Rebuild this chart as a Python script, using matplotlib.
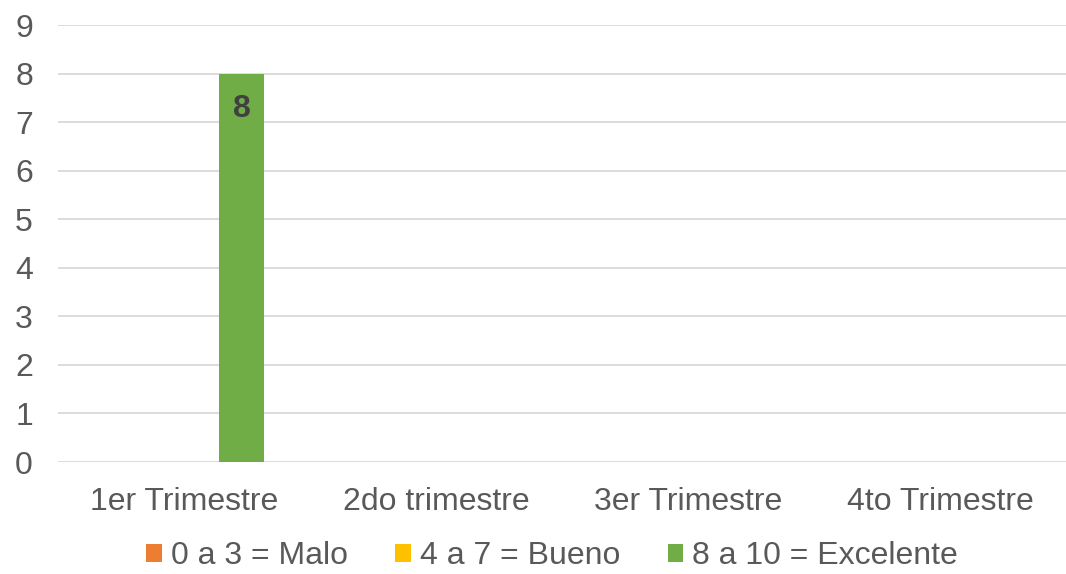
import numpy as np
import matplotlib.pyplot as plt

categorias = ['1er Trimestre', '2do trimestre', '3er Trimestre', '4to Trimestre']
series = ['0 a 3 = Malo', '4 a 7 = Bueno', '8 a 10 = Excelente']
malo = [0, 0, 0, 0]
bueno = [0, 0, 0, 0]
excelente = [8, 0, 0, 0]
colores = ['#ED7D31', '#FFC000', '#70AD47']


def main():
    plt.rcParams['font.family'] = ['Liberation Sans', 'DejaVu Sans']
    gris = '#595959'

    fig = plt.figure(figsize=(10.66, 5.74), dpi=100)
    ax = fig.add_axes([58 / 1066, 1 - 462 / 574, 1008 / 1066, (462 - 25) / 574])

    x = np.arange(len(categorias))
    ancho = 0.18
    desp = 0.228
    for i, (nombre, datos) in enumerate(zip(series, [malo, bueno, excelente])):
        barras = ax.bar(x + (i - 1) * desp, datos, ancho, color=colores[i], label=nombre)
        etiquetas = [str(v) if v else '' for v in datos]
        ax.bar_label(barras, labels=etiquetas, padding=-36, fontsize=23,
                     fontweight='bold', color='#404040')

    ax.set_xlim(-0.5, len(categorias) - 0.5)
    ax.set_ylim(0, 9)
    ax.set_yticks(range(0, 10))
    ax.set_xticks(x)
    ax.set_xticklabels(categorias)
    ax.yaxis.grid(True, color='#D9D9D9', linewidth=1.3)
    ax.set_axisbelow(True)
    for s in ax.spines.values():
        s.set_visible(False)
    ax.tick_params(axis='y', length=0, pad=18, labelsize=23, labelcolor=gris)
    ax.tick_params(axis='x', length=0, pad=18, labelsize=23, labelcolor=gris)

    fig.legend(loc='lower center', bbox_to_anchor=(0.518, 0.005), ncol=3, frameon=False,
               fontsize=23, labelcolor=gris, handlelength=0.48, handleheight=0.48,
               handletextpad=0.28, columnspacing=1.5, borderpad=0, borderaxespad=0)

    fig.savefig('out.png', dpi=100)


main()
